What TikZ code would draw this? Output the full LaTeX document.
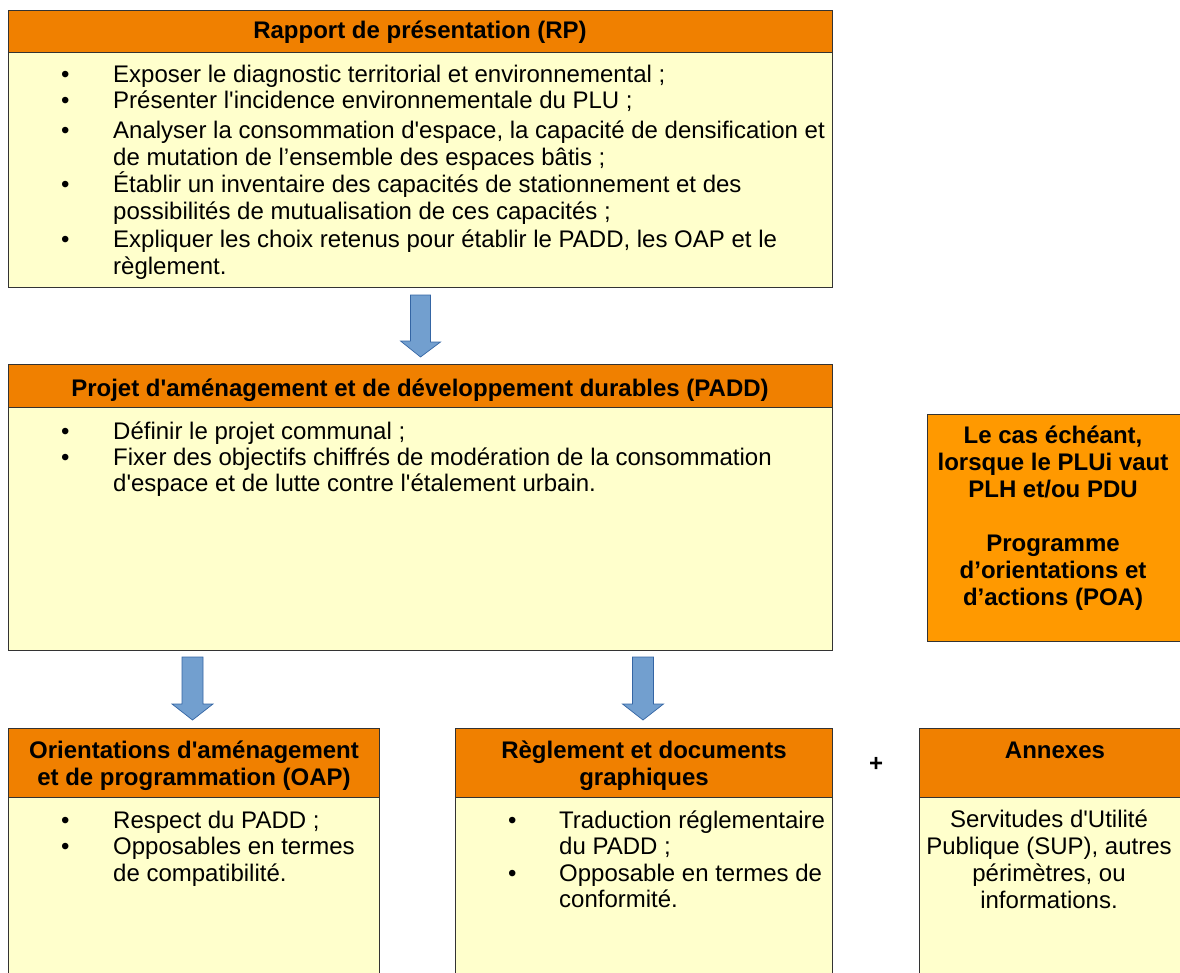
\documentclass[tikz,border=0pt]{standalone}
\usepackage{fontspec}
\setmainfont{Liberation Sans}[Ligatures=TeXOff]
\definecolor{hdr}{HTML}{F08000}
\definecolor{poa}{HTML}{FF9900}
\definecolor{bodyc}{HTML}{FFFFCC}
\definecolor{edge}{HTML}{333333}
\definecolor{arrfill}{HTML}{729FCF}
\definecolor{arredge}{HTML}{3465A4}
\tikzset{
  bodybox/.style={draw=edge, fill=bodyc, line width=1pt, inner sep=0pt, anchor=north west},
  hdrbox/.style={draw=edge, fill=hdr, line width=1pt, inner sep=0pt, anchor=north west},
  poabox/.style={draw=edge, fill=poa, line width=1pt, inner sep=0pt, anchor=north west},
  blockarrow/.style={draw=arredge, fill=arrfill, line width=0.7pt, line join=miter},
  item/.style={inner sep=0pt, anchor=base west, font=\fontsize{24}{26.5}\selectfont},
  htxt/.style={inner sep=0pt, anchor=base, font=\bfseries\fontsize{24}{27}\selectfont, align=center},
  ctxt/.style={inner sep=0pt, anchor=base, font=\fontsize{24}{26.7}\selectfont, align=center},
}
\newcommand{\bitem}[2]{\makebox[#1][l]{\textbullet}\parbox[t]{760pt}{\raggedright #2}}
\begin{document}
\begin{tikzpicture}[x=1pt,y=-1pt]
\useasboundingbox (0,0) rectangle (1180,972);
\clip (0,0) rectangle (1180,972);
% ---- RP
\node[bodybox, minimum width=824pt, minimum height=277pt] (rp) at (8,10) {};
\node[hdrbox, minimum width=824pt, minimum height=42pt] (rph) at (8,10) {};
\node[htxt] (rpt) at (420,38) {Rapport de présentation (RP)};
\node[item] (rp1) at (61,82) {\bitem{52pt}{Exposer le diagnostic territorial et environnemental ;}};
\node[item] (rp2) at (61,108) {\bitem{52pt}{Présenter l'incidence environnementale du PLU ;}};
\node[item] (rp3) at (61,138.5) {\bitem{52pt}{Analyser la consommation d'espace, la capacité de densification et\\de mutation de l’ensemble des espaces bâtis ;}};
\node[item] (rp4) at (61,192.5) {\bitem{52pt}{Établir un inventaire des capacités de stationnement et des\\possibilités de mutualisation de ces capacités ;}};
\node[item] (rp5) at (61,247.5) {\bitem{52pt}{Expliquer les choix retenus pour établir le PADD, les OAP et le\\règlement.}};
% ---- PADD
\node[bodybox, minimum width=824pt, minimum height=286pt] (padd) at (8,364) {};
\node[hdrbox, minimum width=824pt, minimum height=43pt] (paddh) at (8,364) {};
\node[htxt] (paddt) at (420,396) {Projet d'aménagement et de développement durables (PADD)};
\node[item] (padd1) at (61,439) {\bitem{52pt}{Définir le projet communal ;}};
\node[item] (padd2) at (61,465) {\bitem{52pt}{Fixer des objectifs chiffrés de modération de la consommation\\d'espace et de lutte contre l'étalement urbain.}};
% ---- POA
\node[poabox, minimum width=260pt, minimum height=227pt] (poa) at (927,414) {};
\node[htxt] (poat) at (1053,605) {Le cas échéant,\\lorsque le PLUi vaut\\PLH et/ou PDU\\[27pt]Programme\\d’orientations et\\d’actions (POA)};
% ---- OAP
\node[bodybox, minimum width=371pt, minimum height=260pt] (oap) at (8,728) {};
\node[hdrbox, minimum width=371pt, minimum height=69pt] (oaph) at (8,728) {};
\node[htxt] (oapt) at (194,785) {Orientations d'aménagement\\et de programmation (OAP)};
\node[item] (oap1) at (61,828) {\bitem{52pt}{Respect du PADD ;}};
\node[item] (oap2) at (61,854.5) {\bitem{52pt}{Opposables en termes\\de compatibilité.}};
% ---- Reglement
\node[bodybox, minimum width=377pt, minimum height=260pt] (reg) at (455,728) {};
\node[hdrbox, minimum width=377pt, minimum height=69pt] (regh) at (455,728) {};
\node[htxt] (regt) at (644,785) {Règlement et documents\\graphiques};
\node[item] (reg1) at (508,828) {\bitem{51pt}{Traduction réglementaire\\du PADD ;}};
\node[item] (reg2) at (508,881) {\bitem{51pt}{Opposable en termes de\\conformité.}};
% ---- Annexes
\node[bodybox, minimum width=272pt, minimum height=260pt] (ann) at (919,728) {};
\node[hdrbox, minimum width=272pt, minimum height=69pt] (annh) at (919,728) {};
\node[htxt] (annt) at (1055,758) {Annexes};
\node[ctxt] (annb) at (1049,908) {Servitudes d'Utilité\\Publique (SUP), autres\\périmètres, ou\\informations.};
\node[htxt] (plus) at (876,771) {+};
% ---- block arrows
\draw[blockarrow] ([xshift=-10pt,yshift=-7pt]rp.south) -- ++(20,0) -- ++(0,47) -- ++(10,0) -- ([yshift=7pt]padd.north) -- ++(-20,-16) -- ++(10,0) -- cycle;
\coordinate (a2) at (192.5,657);
\draw[blockarrow] ([xshift=-10.5pt]a2) -- ++(21,0) -- ++(0,47) -- ++(10,0) -- ([yshift=8pt]oaph.north -| a2) -- ++(-20.5,-16) -- ++(10,0) -- cycle;
\coordinate (a3) at (643,657);
\draw[blockarrow] ([xshift=-10.5pt]a3) -- ++(21,0) -- ++(0,47) -- ++(10,0) -- ([yshift=8pt]regh.north -| a3) -- ++(-20.5,-16) -- ++(10,0) -- cycle;
\end{tikzpicture}
\end{document}
